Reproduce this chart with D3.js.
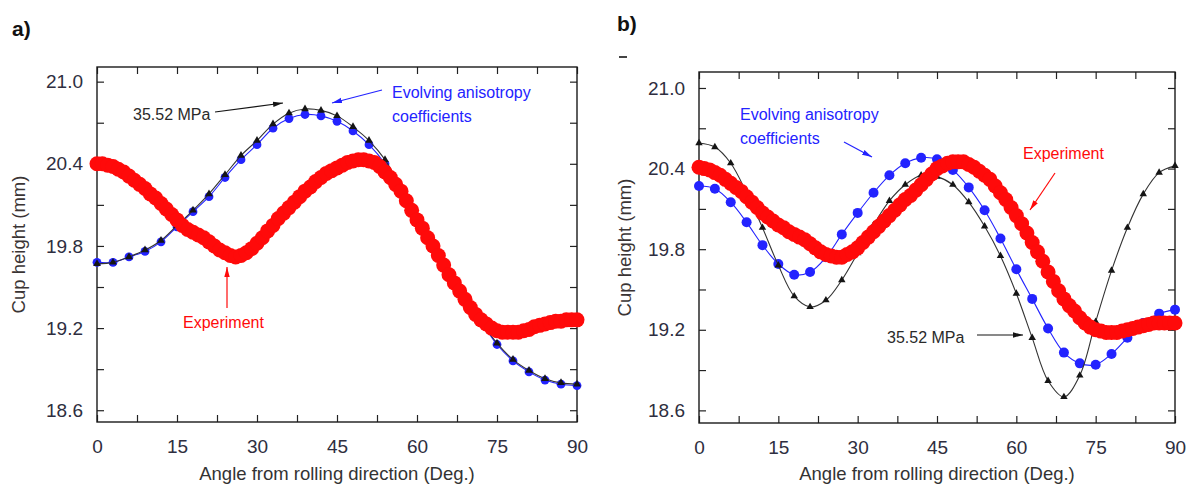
<!DOCTYPE html>
<html>
<head>
<meta charset="utf-8">
<script src="https://cdn.jsdelivr.net/npm/d3@7"></script>
<style>
  body { margin: 0; background: #fff; }
  svg text { font-family: "Liberation Sans", Arial, sans-serif; }
</style>
</head>
<body>
<div id="chart"></div>
<script>
// angles (deg) for the simulated curves and for the measured cup profile
const simAngles = [0, 3, 6, 9, 12, 15, 18, 21, 24, 27, 30, 33, 36, 39, 42, 45,
  48, 51, 54, 57, 60, 63, 66, 69, 72, 75, 78, 81, 84, 87, 90];
const expAngles = d3.range(0, 91, 1);

const xTicks = [0, 15, 30, 45, 60, 75, 90];
const xMinor = [0, 7.5, 15, 22.5, 30, 37.5, 45, 52.5, 60, 67.5, 75, 82.5, 90];
const yTicks = [18.6, 19.2, 19.8, 20.4, 21.0];
const yMinor = [18.6, 18.9, 19.2, 19.5, 19.8, 20.1, 20.4, 20.7, 21.0];

// panel a
const aYield = [19.67, 19.68, 19.72, 19.77, 19.84, 19.95, 20.06, 20.18, 20.32, 20.46,
  20.57, 20.69, 20.77, 20.80, 20.79, 20.75, 20.67, 20.57, 20.43, 20.22, 20.00, 19.79,
  19.60, 19.41, 19.25, 19.09, 18.97, 18.89, 18.83, 18.80, 18.79];
const aEvolving = [19.68, 19.68, 19.72, 19.76, 19.83, 19.94, 20.05, 20.16, 20.30, 20.43,
  20.54, 20.66, 20.73, 20.76, 20.75, 20.71, 20.64, 20.54, 20.40, 20.20, 19.98, 19.78,
  19.59, 19.41, 19.25, 19.08, 18.96, 18.88, 18.82, 18.79, 18.78];
const aExperiment = [20.40, 20.40, 20.39, 20.38, 20.36, 20.34, 20.31, 20.28, 20.25, 20.22,
  20.18, 20.15, 20.11, 20.07, 20.03, 19.99, 19.95, 19.92, 19.90, 19.88,
  19.86, 19.83, 19.80, 19.77, 19.75, 19.73, 19.72, 19.73, 19.75, 19.78,
  19.82, 19.86, 19.91, 19.95, 20.00, 20.04, 20.08, 20.12, 20.16, 20.20,
  20.23, 20.27, 20.30, 20.33, 20.35, 20.37, 20.39, 20.41, 20.42, 20.43,
  20.43, 20.42, 20.41, 20.38, 20.34, 20.30, 20.25, 20.20, 20.13, 20.06,
  19.99, 19.93, 19.86, 19.80, 19.73, 19.66, 19.59, 19.53, 19.47, 19.41,
  19.35, 19.30, 19.26, 19.23, 19.20, 19.18, 19.17, 19.17, 19.17, 19.17,
  19.18, 19.19, 19.21, 19.22, 19.23, 19.24, 19.25, 19.25, 19.26, 19.26, 19.26];

// panel b
const bYield = [20.59, 20.56, 20.44, 20.22, 19.96, 19.68, 19.45, 19.37, 19.42, 19.57,
  19.77, 19.98, 20.16, 20.28, 20.35, 20.34, 20.28, 20.15, 19.97, 19.75, 19.47, 19.14,
  18.82, 18.70, 18.86, 19.26, 19.64, 19.96, 20.21, 20.37, 20.42];
const bEvolving = [20.27, 20.25, 20.15, 20.00, 19.83, 19.69, 19.61, 19.63, 19.74, 19.91,
  20.07, 20.22, 20.35, 20.44, 20.48, 20.47, 20.39, 20.26, 20.09, 19.88, 19.65, 19.43,
  19.21, 19.03, 18.95, 18.94, 19.02, 19.14, 19.25, 19.32, 19.35];
const bExperiment = [20.41, 20.40, 20.39, 20.37, 20.35, 20.32, 20.29, 20.26, 20.23, 20.19,
  20.15, 20.11, 20.07, 20.04, 20.01, 19.98, 19.96, 19.93, 19.91, 19.89,
  19.87, 19.84, 19.81, 19.78, 19.76, 19.75, 19.74, 19.74, 19.76, 19.78,
  19.81, 19.85, 19.89, 19.93, 19.97, 20.01, 20.05, 20.09, 20.13, 20.17,
  20.20, 20.24, 20.28, 20.32, 20.36, 20.40, 20.42, 20.44, 20.45, 20.45,
  20.45, 20.43, 20.41, 20.38, 20.35, 20.32, 20.27, 20.22, 20.17, 20.11,
  20.05, 19.99, 19.92, 19.85, 19.78, 19.71, 19.63, 19.56, 19.49, 19.43,
  19.38, 19.34, 19.29, 19.25, 19.22, 19.20, 19.19, 19.18, 19.18, 19.18,
  19.19, 19.20, 19.21, 19.22, 19.23, 19.24, 19.25, 19.25, 19.25, 19.25, 19.25];

const BLUE = "#2323ff";
const RED = "#ff0a0a";
const BLACK = "#151515";
const TEXT = "#2e2e40";

const svg = d3.select("#chart").append("svg")
  .attr("width", 1190).attr("height", 486)
  .style("background", "#fff");

// arrow heads
const defs = svg.append("defs");
[["black", BLACK], ["blue", BLUE], ["red", RED]].forEach(([name, c]) => {
  defs.append("marker")
    .attr("id", `head-${name}`)
    .attr("viewBox", "0 0 10 8")
    .attr("refX", 10).attr("refY", 4)
    .attr("markerWidth", 10).attr("markerHeight", 8)
    .attr("markerUnits", "userSpaceOnUse")
    .attr("orient", "auto")
    .append("path").attr("d", "M0,1.3 L10,4 L0,6.7 Z").attr("fill", c);
});

const panels = [
  {
    left: 97, right: 577, top: 67, bottom: 422, yDomain: [18.514, 21.107],
    tag: "a)", tagX: 12, tagY: 36, yTitleX: 25,
    blueR: 4.4, triSize: 26,
    yieldVals: aYield, evolvingVals: aEvolving, expVals: aExperiment,
    notes: [
      { lines: ["35.52 MPa"], color: "#2a2a2a", x: 36, y: 52.5, arrow: [118, 45, 186, 36], head: "black" },
      { lines: ["Evolving anisotropy", "coefficients"], color: BLUE, x: 295, y: 31, arrow: [285, 23, 235, 36], head: "blue" },
      { lines: ["Experiment"], color: RED, x: 86, y: 261, arrow: [130, 241, 130, 200], head: "red" },
    ],
  },
  {
    left: 699, right: 1175, top: 72, bottom: 423, yDomain: [18.506, 21.119],
    tag: "b)", tagX: 617, tagY: 31, yTitleX: 631,
    blueR: 5, triSize: 24,
    yieldVals: bYield, evolvingVals: bEvolving, expVals: bExperiment,
    notes: [
      { lines: ["Evolving anisotropy", "coefficients"], color: BLUE, x: 41, y: 48, arrow: [145, 70, 173, 85], head: "blue" },
      { lines: ["Experiment"], color: RED, x: 324, y: 87, arrow: [356, 101, 331, 138], head: "red" },
      { lines: ["35.52 MPa"], color: "#2a2a2a", x: 188, y: 271, arrow: [278, 263, 324, 263], head: "black" },
    ],
  },
];

const fmt = d3.format(".1f");
const isLabel = (list) => (d) => list.some((t) => Math.abs(t - d) < 1e-6);

const drawPanel = (p) => {
  const w = p.right - p.left;
  const h = p.bottom - p.top;
  const x = d3.scaleLinear().domain([0, 90]).range([0, w]);
  const y = d3.scaleLinear().domain(p.yDomain).range([h, 0]);

  svg.append("text")
    .attr("x", p.tagX).attr("y", p.tagY)
    .attr("font-size", 21).attr("font-weight", 700).attr("fill", "#111")
    .text(p.tag);

  const g = svg.append("g").attr("transform", `translate(${p.left},${p.top})`);

  // axes, ticks pointing inward
  const styleAxis = (sel) => {
    sel.select(".domain").remove();
    sel.selectAll("line").attr("stroke", "#222").attr("stroke-width", 1.2);
    sel.selectAll("text").attr("font-size", 19).attr("fill", TEXT)
      .attr("font-family", '"Liberation Sans", Arial, sans-serif');
  };

  g.append("g").attr("transform", `translate(0,${h})`)
    .call(d3.axisBottom(x).tickValues(xMinor).tickSizeInner(-7).tickSizeOuter(0)
      .tickPadding(18).tickFormat((d) => (isLabel(xTicks)(d) ? d : "")))
    .call(styleAxis);
  g.append("g")
    .call(d3.axisTop(x).tickValues(xMinor).tickSizeInner(-7).tickSizeOuter(0).tickFormat(""))
    .call(styleAxis);
  g.append("g")
    .call(d3.axisLeft(y).tickValues(yMinor).tickSizeInner(-7).tickSizeOuter(0)
      .tickPadding(14).tickFormat((d) => (isLabel(yTicks)(d) ? fmt(d) : "")))
    .call(styleAxis);
  g.append("g").attr("transform", `translate(${w},0)`)
    .call(d3.axisRight(y).tickValues(yMinor).tickSizeInner(-7).tickSizeOuter(0).tickFormat(""))
    .call(styleAxis);

  g.append("rect")
    .attr("width", w).attr("height", h)
    .attr("fill", "none").attr("stroke", "#1a1a1a").attr("stroke-width", 1.4);

  // axis titles
  svg.append("text")
    .attr("x", p.left + w / 2).attr("y", 480)
    .attr("text-anchor", "middle").attr("font-size", 18.5).attr("fill", "#333")
    .text("Angle from rolling direction (Deg.)");
  svg.append("text")
    .attr("transform", `translate(${p.yTitleX},${p.top + h / 2}) rotate(-90)`)
    .attr("text-anchor", "middle").attr("font-size", 18.5).attr("fill", "#3a3434")
    .text("Cup height (mm)");

  const line = d3.line()
    .x((d) => x(d[0])).y((d) => y(d[1]))
    .curve(d3.curveCatmullRom);

  // evolving anisotropy coefficients (blue circles)
  const evolving = simAngles.map((a, i) => [a, p.evolvingVals[i]]);
  g.append("path").datum(evolving)
    .attr("d", line).attr("fill", "none").attr("stroke", BLUE).attr("stroke-width", 1.1);
  g.selectAll(".blue-dot").data(evolving).join("circle")
    .attr("class", "blue-dot")
    .attr("cx", (d) => x(d[0])).attr("cy", (d) => y(d[1]))
    .attr("r", p.blueR).attr("fill", BLUE);

  // 35.52 MPa (black triangles)
  const yieldData = simAngles.map((a, i) => [a, p.yieldVals[i]]);
  g.append("path").datum(yieldData)
    .attr("d", line).attr("fill", "none").attr("stroke", "#333").attr("stroke-width", 1.1);
  g.selectAll(".tri").data(yieldData).join("path")
    .attr("class", "tri")
    .attr("transform", (d) => `translate(${x(d[0])},${y(d[1])})`)
    .attr("d", d3.symbol(d3.symbolTriangle).size(p.triSize))
    .attr("fill", BLACK);

  // experiment (red, dense)
  const expData = expAngles.map((a, i) => [a, p.expVals[i]]);
  g.selectAll(".red-dot").data(expData).join("circle")
    .attr("class", "red-dot")
    .attr("cx", (d) => x(d[0])).attr("cy", (d) => y(d[1]))
    .attr("r", 7.5).attr("fill", RED);

  // annotations
  p.notes.forEach((n) => {
    const t = g.append("text")
      .attr("x", n.x).attr("y", n.y)
      .attr("font-size", 16).attr("fill", n.color);
    n.lines.forEach((s, i) => {
      t.append("tspan").attr("x", n.x).attr("dy", i === 0 ? 0 : 23.5).text(s);
    });
    g.append("line")
      .attr("x1", n.arrow[0]).attr("y1", n.arrow[1])
      .attr("x2", n.arrow[2]).attr("y2", n.arrow[3])
      .attr("stroke", n.color === "#2a2a2a" ? BLACK : n.color)
      .attr("stroke-width", 1.2)
      .attr("marker-end", `url(#head-${n.head})`);
  });
};

panels.forEach(drawPanel);

// small stray mark under "b)"
svg.append("line")
  .attr("x1", 619).attr("y1", 57).attr("x2", 627).attr("y2", 57)
  .attr("stroke", "#444").attr("stroke-width", 2);
</script>
</body>
</html>
